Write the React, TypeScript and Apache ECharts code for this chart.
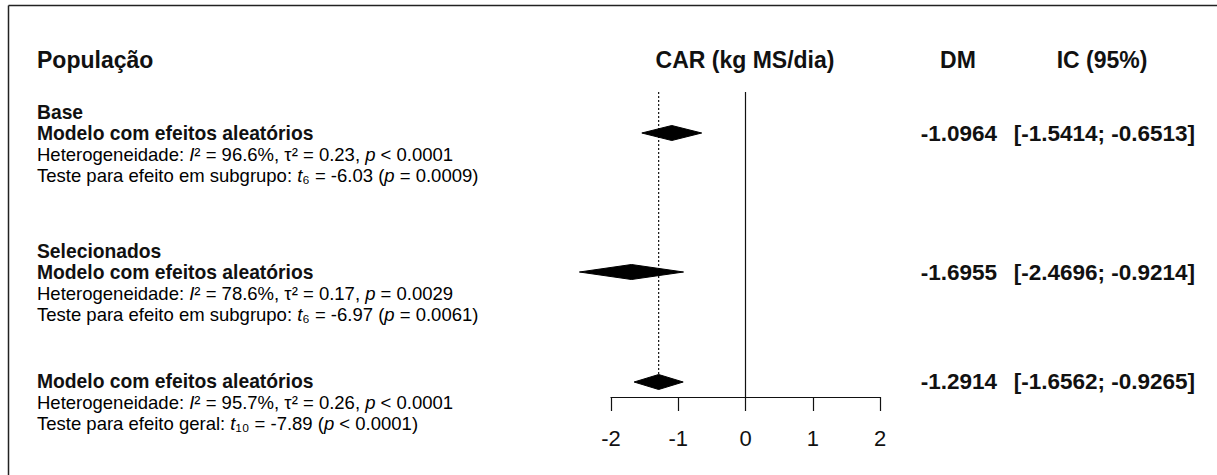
import React, { useEffect, useRef } from "react";
import * as echarts from "echarts";

// ---- data ----
const subgroupNames = ["Base", "Selecionados", ""];
const modelLabel = "Modelo com efeitos aleatórios";
const estimates = [-1.0964, -1.6955, -1.2914];
const lowerCI = [-1.5414, -2.4696, -1.6562];
const upperCI = [-0.6513, -0.9214, -0.9265];
const i2Values = ["96.6%", "78.6%", "95.7%"];
const tau2Values = ["0.23", "0.17", "0.26"];
const hetPValues = ["< 0.0001", "= 0.0029", "< 0.0001"];
const testLabels = [
  "Teste para efeito em subgrupo",
  "Teste para efeito em subgrupo",
  "Teste para efeito geral",
];
const testDf = ["₆", "₆", "₁₀"];
const testT = ["-6.03", "-6.97", "-7.89"];
const testPValues = ["= 0.0009", "= 0.0061", "< 0.0001"];
const xTicks = [-2, -1, 0, 1, 2];
const rowPositions = [2.05, 9, 14.5]; // plot rows (20px each) of the summary diamonds
const yRows = 15.25;

const FONT = "'Liberation Sans', Arial, Helvetica, sans-serif";

export default function App() {
  const ref = useRef<HTMLDivElement>(null);
  useEffect(() => {
    if (!ref.current) return;
    const chart = echarts.init(ref.current, undefined, { renderer: "svg" });

    const gridLeft = 611;
    const gridRight = 1217 - 880;
    const gridTop = 92;
    const gridBottom = 475 - 397;

    const headerY = 60;
    const blockY = [
      { sub: 112, model: 133, het: 154, test: 175 },
      { sub: 251, model: 272, het: 293, test: 314 },
      { sub: null, model: 381, het: 402, test: 423 },
    ];

    const C = "#111";
    const bold = (size: number) => ({ fontFamily: FONT, fontSize: size, fontWeight: "bold", fill: C });
    const HEAD = 23;
    const LEFT = 19.3;
    const RIGHT = 22.5;
    const R = 18.5;
    const LH = 18;
    const rich = {
      n: { fontSize: R, fontFamily: FONT, color: C, lineHeight: LH },
      i: { fontSize: R, fontFamily: FONT, color: C, fontStyle: "italic", lineHeight: LH },
    } as any;

    const graphics: any[] = [
      { type: "line", shape: { x1: 8.5, y1: 5.5, x2: 1217, y2: 5.5 }, style: { stroke: "#222", lineWidth: 1.5 } },
      { type: "line", shape: { x1: 8.5, y1: 5.5, x2: 8.5, y2: 475 }, style: { stroke: "#222", lineWidth: 1.5 } },
      { type: "text", x: 37, y: headerY, style: { ...bold(HEAD), text: "População", verticalAlign: "middle" } },
      { type: "text", x: 745, y: headerY, style: { ...bold(HEAD), text: "CAR (kg MS/dia)", align: "center", verticalAlign: "middle" } },
      { type: "text", x: 958, y: headerY, style: { ...bold(HEAD), text: "DM", align: "center", verticalAlign: "middle" } },
      { type: "text", x: 1102, y: headerY, style: { ...bold(HEAD), text: "IC (95%)", align: "center", verticalAlign: "middle" } },
    ];

    blockY.forEach((b, k) => {
      if (b.sub !== null && subgroupNames[k]) {
        graphics.push({ type: "text", x: 37, y: b.sub, style: { ...bold(LEFT), text: subgroupNames[k], verticalAlign: "middle" } });
      }
      graphics.push({ type: "text", x: 37, y: b.model, style: { ...bold(LEFT), text: modelLabel, verticalAlign: "middle", lineHeight: 19 } });
      graphics.push({
        type: "text", x: 37, y: b.het,
        style: {
          text: `{n|Heterogeneidade: }{i|I}{n|² = ${i2Values[k]}, τ² = ${tau2Values[k]}, }{i|p}{n| ${hetPValues[k]}}`,
          rich, verticalAlign: "middle",
        },
      });
      graphics.push({
        type: "text", x: 37, y: b.test,
        style: {
          text: `{n|${testLabels[k]}: }{i|t}{n|${testDf[k]} = ${testT[k]} (}{i|p}{n| ${testPValues[k]})}`,
          rich, verticalAlign: "middle",
        },
      });
      graphics.push({ type: "text", x: 997, y: b.model, style: { ...bold(RIGHT), text: estimates[k].toFixed(4), align: "right", verticalAlign: "middle" } });
      graphics.push({ type: "text", x: 1195, y: b.model, style: { ...bold(RIGHT), text: `[${lowerCI[k].toFixed(4)}; ${upperCI[k].toFixed(4)}]`, align: "right", verticalAlign: "middle" } });
    });

    const diamondData = estimates.map((e, k) => [e, lowerCI[k], upperCI[k], rowPositions[k]]);
    const overall = estimates.length - 1;

    chart.setOption({
      animation: false,
      backgroundColor: "#fff",
      grid: { left: gridLeft, right: gridRight, top: gridTop, bottom: gridBottom, containLabel: false },
      xAxis: {
        type: "value",
        min: xTicks[0],
        max: xTicks[xTicks.length - 1],
        interval: 1,
        axisLine: { show: true, onZero: false, lineStyle: { color: C, width: 1.2 } },
        axisTick: { show: true, length: 14, lineStyle: { color: C, width: 1.2 } },
        axisLabel: { color: C, fontSize: 22, fontFamily: FONT, margin: 30 },
        splitLine: { show: false },
      },
      yAxis: { type: "value", inverse: true, min: 0, max: yRows, show: false, splitLine: { show: false } },
      series: [
        {
          type: "line",
          data: [[0, 0], [0, yRows]],
          symbol: "none",
          lineStyle: { color: C, width: 1.2 },
          z: 1,
        },
        {
          type: "line",
          data: [[estimates[overall], 0], [estimates[overall], rowPositions[overall] - 0.35]],
          symbol: "none",
          lineStyle: { color: C, width: 1.2, type: [2, 2] },
          z: 1,
        },
        {
          type: "custom",
          data: diamondData,
          encode: { x: [0, 1, 2], y: 3 },
          z: 3,
          renderItem: (params: any, api: any) => {
            const est = api.value(0);
            const lo = api.value(1);
            const hi = api.value(2);
            const row = api.value(3);
            const pL = api.coord([lo, row]);
            const pE = api.coord([est, row]);
            const pH = api.coord([hi, row]);
            const h = 7.5;
            return {
              type: "polygon",
              shape: { points: [[pL[0], pL[1]], [pE[0], pE[1] - h], [pH[0], pH[1]], [pE[0], pE[1] + h]] },
              style: { fill: "#000", stroke: "#000", lineWidth: 1 },
            };
          },
        },
      ],
      graphic: graphics,
    });

    return () => chart.dispose();
  }, []);

  return (
    <div
      ref={ref}
      style={{ position: "absolute", left: 0, top: 0, width: 1217, height: 475, background: "#fff" }}
    />
  );
}
